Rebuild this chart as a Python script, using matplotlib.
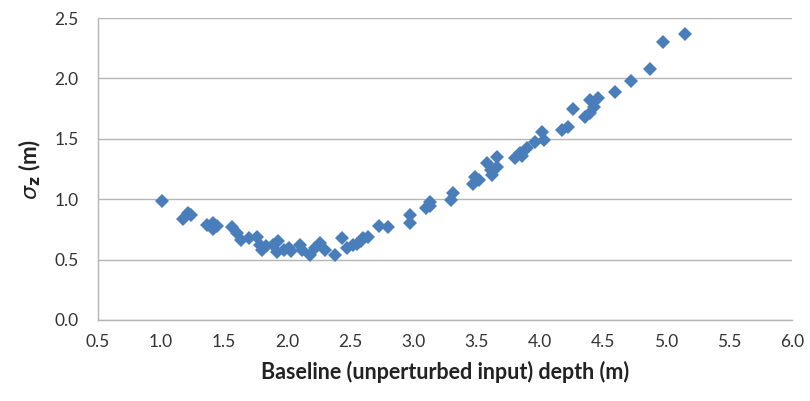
import matplotlib.pyplot as plt

# baseline depth (m) vs sigma_z (m)
depth = [1.01, 1.17, 1.21, 1.24, 1.36, 1.41, 1.41, 1.44, 1.56, 1.60,
         1.63, 1.70, 1.76, 1.78, 1.80, 1.83, 1.89, 1.93, 1.92, 1.97,
         2.01, 2.03, 2.10, 2.12, 2.18, 2.22, 2.26, 2.30, 2.38, 2.43,
         2.47, 2.52, 2.55, 2.58, 2.64, 2.60, 2.73, 2.80, 2.97, 2.97,
         3.10, 3.13, 3.13, 3.30, 3.31, 3.47, 3.49, 3.52, 3.58, 3.61,
         3.62, 3.66, 3.66, 3.80, 3.84, 3.86, 3.90, 3.96, 4.02, 4.03,
         4.18, 4.22, 4.26, 4.36, 4.40, 4.40, 4.43, 4.46, 4.60, 4.72,
         4.87, 4.98, 5.15]
sigma_z = [0.985, 0.84, 0.89, 0.87, 0.79, 0.80, 0.75, 0.78, 0.77, 0.72,
           0.66, 0.68, 0.69, 0.62, 0.58, 0.61, 0.62, 0.65, 0.56, 0.58,
           0.60, 0.57, 0.62, 0.58, 0.54, 0.60, 0.64, 0.58, 0.54, 0.68,
           0.60, 0.62, 0.63, 0.65, 0.69, 0.68, 0.78, 0.77, 0.87, 0.80,
           0.93, 0.98, 0.94, 0.99, 1.05, 1.13, 1.18, 1.16, 1.30, 1.24,
           1.20, 1.35, 1.27, 1.34, 1.38, 1.36, 1.42, 1.47, 1.56, 1.49,
           1.57, 1.60, 1.75, 1.68, 1.71, 1.82, 1.76, 1.84, 1.89, 1.98,
           2.08, 2.30, 2.37]

x_ticks = [0.5, 1.0, 1.5, 2.0, 2.5, 3.0, 3.5, 4.0, 4.5, 5.0, 5.5, 6.0]
y_ticks = [0.0, 0.5, 1.0, 1.5, 2.0, 2.5]

plt.rcParams['font.family'] = ['Lato', 'DejaVu Sans']

fig = plt.figure(figsize=(8.1, 4.01), dpi=100)
ax = fig.add_axes([0.121, 0.202, 0.857, 0.753])

ax.plot(depth, sigma_z, linestyle='none', marker='D', ms=7,
        color='#4A7EBB', markeredgewidth=0, zorder=3)

ax.set_xlim(0.5, 6.0)
ax.set_ylim(0.0, 2.5)
ax.set_xticks(x_ticks)
ax.set_yticks(y_ticks)
ax.set_xticklabels([f'{v:.1f}' for v in x_ticks])
ax.set_yticklabels([f'{v:.1f}' for v in y_ticks])
ax.tick_params(length=0, labelsize=12.5, colors='#333333', pad=10)
ax.tick_params(axis='y', pad=14)

ax.yaxis.grid(True, color='#b5b5b5', linewidth=1)
ax.set_axisbelow(True)
for side in ['top', 'right']:
    ax.spines[side].set_visible(False)
for side in ['left', 'bottom']:
    ax.spines[side].set_color('#b5b5b5')
    ax.spines[side].set_linewidth(1)

ax.set_xlabel('Baseline (unperturbed input) depth (m)', fontsize=15.5,
              fontweight='bold', color='#222222', labelpad=8)
ax.set_ylabel(r'$\sigma_\mathbf{z}$ (m)', fontsize=16, fontweight='bold',
              color='#222222', labelpad=8)

plt.savefig('out.png', dpi=100)
